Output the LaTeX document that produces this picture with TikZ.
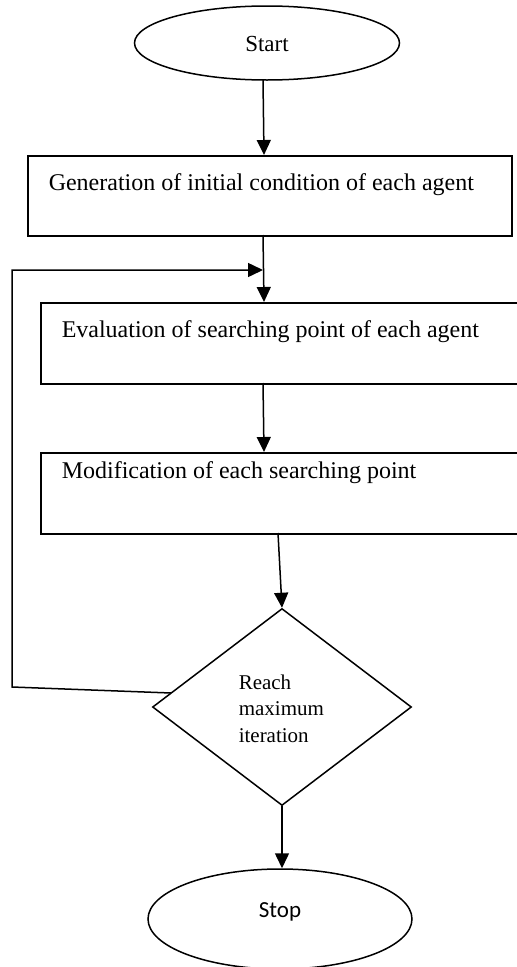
\documentclass[tikz,border=0pt]{standalone}
\usepackage{fontspec}
\setmainfont{Liberation Serif}
\newfontfamily\stopfont{Carlito}
\usetikzlibrary{shapes.geometric,arrows.meta}
\begin{document}
\begin{tikzpicture}[x=1bp,y=-1bp,
  line width=1.5bp,
  arr/.style={-{Triangle[length=15bp,width=14bp]}},
  boxshape/.style={draw,rectangle,inner sep=0,anchor=north west},
  ovalshape/.style={draw,ellipse,inner sep=0},
  txt/.style={inner sep=0,anchor=base west,font=\fontsize{24bp}{28bp}\selectfont},
  dtxt/.style={inner sep=0,anchor=base west,font=\fontsize{21bp}{26bp}\selectfont}]
\useasboundingbox (0,0) rectangle (517,967);
\clip (0,0) rectangle (517,967);
% start
\node[ovalshape,minimum width=265bp,minimum height=74bp] (start) at (267,43) {};
\node[inner sep=0,font=\fontsize{23bp}{27bp}\selectfont] (starttxt) at (267,44) {Start};
% boxes
\node[boxshape,minimum width=484bp,minimum height=80bp] (b1) at (27,155) {};
\node[txt] (t1) at (48,190) {Generation of initial condition of each agent};
\node[boxshape,minimum width=500bp,minimum height=81bp] (b2) at (40,302) {};
\node[txt] (t2) at (61,337) {Evaluation of searching point of each agent};
\node[boxshape,minimum width=500bp,minimum height=81bp] (b3) at (40,452) {};
\node[txt] (t3) at (61,478) {Modification of each searching point};
% diamond
\node[draw,diamond,inner sep=0,aspect=1.315,minimum width=259bp,minimum height=197bp] (dia) at (282,707) {};
\node[dtxt] (r1) at (238,689) {Reach};
\node[dtxt] (r2) at (238,715) {maximum};
\node[dtxt] (r3) at (238,742) {iteration};
% stop
\node[ovalshape,minimum width=264bp,minimum height=100bp] (stop) at (280,919) {};
\node[inner sep=0,font=\stopfont\fontsize{23bp}{27bp}\selectfont] (stoptxt) at (280,912) {Stop};
% connectors
\coordinate (a0) at (263,80);
\coordinate (a1) at (263,235);
\coordinate (a1e) at (264,302);
\coordinate (a2) at (263,383);
\coordinate (a2e) at (264,452);
\coordinate (a3) at (278,533);
\draw[arr] (a0) -- (b1.north west -| 264,0);
\draw[arr] (a1) -- (a1e);
\draw[arr] (a2) -- (a2e);
\draw[arr] (a3) -- (dia.north);
\draw[arr] (dia.south) -- (dia.south |- stop.north);
\coordinate (l0) at (171,693);
\coordinate (l1) at (12,687);
\coordinate (l2) at (12,270);
\coordinate (l3) at (263,270);
\draw[arr] (l0) -- (l1) -- (l2) -- (l3);
\end{tikzpicture}
\end{document}
